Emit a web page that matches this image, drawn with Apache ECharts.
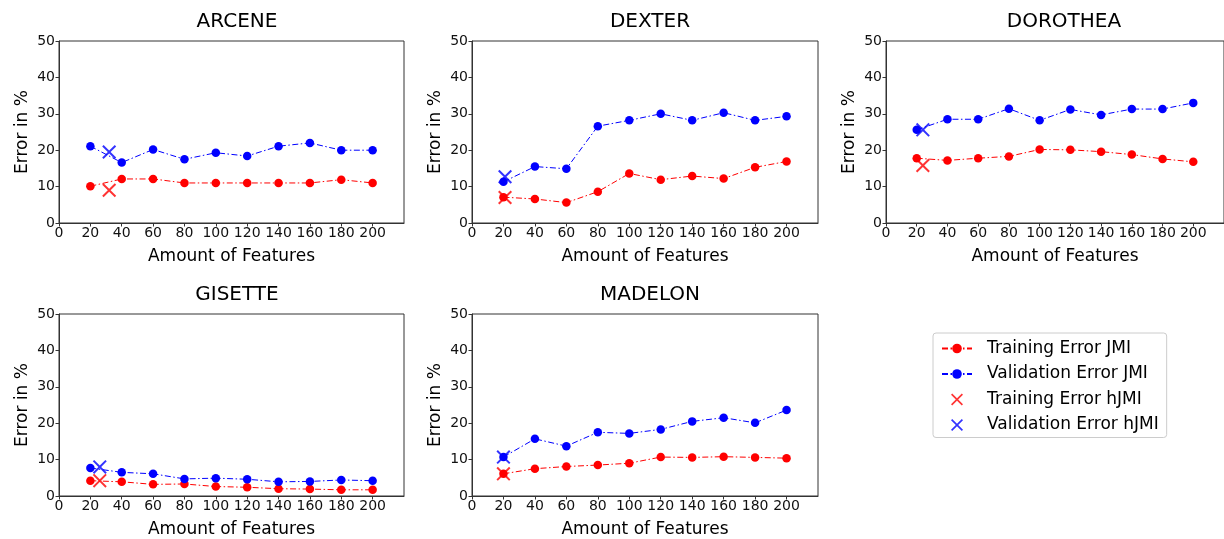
<!DOCTYPE html>
<html>
<head>
<meta charset="utf-8">
<script src="https://cdn.jsdelivr.net/npm/echarts@6/dist/echarts.min.js"></script>
<style>
  html, body { margin: 0; padding: 0; background: #fff; }
  #main { width: 1224px; height: 539px; }
</style>
</head>
<body>
<div id="main"></div>
<script>
// feature counts on the x axis
const features = [20, 40, 60, 80, 100, 120, 140, 160, 180, 200]
const xTicks = [0, 20, 40, 60, 80, 100, 120, 140, 160, 180, 200]

const datasets = ['ARCENE', 'DEXTER', 'DOROTHEA', 'GISETTE', 'MADELON']

// JMI errors, one array per dataset
const trainArcene = [10.1, 12.1, 12.1, 11.0, 11.0, 11.0, 11.0, 11.0, 11.9, 11.0]
const validArcene = [21.1, 16.6, 20.2, 17.5, 19.3, 18.4, 21.1, 22.0, 20.0, 20.0]
const trainDexter = [7.1, 6.6, 5.6, 8.6, 13.6, 11.9, 12.9, 12.2, 15.3, 16.9]
const validDexter = [11.3, 15.5, 14.9, 26.6, 28.2, 30.0, 28.2, 30.3, 28.2, 29.3]
const trainDorothea = [17.8, 17.2, 17.8, 18.3, 20.2, 20.1, 19.6, 18.8, 17.6, 16.8]
const validDorothea = [25.6, 28.5, 28.5, 31.4, 28.2, 31.2, 29.7, 31.3, 31.3, 33.0]
const trainGisette = [4.2, 3.9, 3.2, 3.3, 2.6, 2.4, 2.0, 1.9, 1.7, 1.7]
const validGisette = [7.7, 6.5, 6.1, 4.7, 4.9, 4.6, 3.9, 4.0, 4.4, 4.2]
const trainMadelon = [6.1, 7.5, 8.1, 8.5, 9.0, 10.7, 10.6, 10.8, 10.6, 10.4]
const validMadelon = [10.7, 15.7, 13.7, 17.5, 17.2, 18.3, 20.5, 21.5, 20.1, 23.6]

// hJMI result: [features, error]
const hTrain = [[32, 9.0], [21, 7.0], [24, 15.8], [26, 4.2], [20, 6.1]]
const hValid = [[32, 19.5], [21, 12.7], [24, 25.6], [26, 8.0], [20, 10.7]]

const trainJMI = [trainArcene, trainDexter, trainDorothea, trainGisette, trainMadelon]
const validJMI = [validArcene, validDexter, validDorothea, validGisette, validMadelon]

const yTicks = [0, 10, 20, 30, 40, 50]

const FONT = 'DejaVu Sans'
const RED = '#ff0000'
const BLUE = '#0000ff'
const AXIS = '#333'
const crossPath = 'path://M0,1L1,0L5,4L9,0L10,1L6,5L10,9L9,10L5,6L1,10L0,9L4,5Z'
const dashDot = [6, 2.5, 1.5, 2.5]

// panel boxes in px
const boxes = [
  { left: 59, top: 41, width: 345, height: 182 },
  { left: 472, top: 41, width: 346, height: 182 },
  { left: 886, top: 41, width: 345, height: 182 },
  { left: 59, top: 314, width: 345, height: 184 },
  { left: 472, top: 314, width: 346, height: 184 }
]

const grids = []
const xAxes = []
const yAxes = []
const titles = []
const series = []

boxes.forEach((b, i) => {
  grids.push({
    left: b.left, top: b.top, width: b.width, height: b.height,
    show: true, borderColor: AXIS, borderWidth: 1, backgroundColor: 'transparent'
  })
  titles.push({
    text: datasets[i],
    left: b.left + 173,
    top: b.top - 34,
    textAlign: 'center',
    textStyle: { fontFamily: FONT, fontSize: 20, fontWeight: 'normal', color: '#000' }
  })
  xAxes.push({
    type: 'value', gridIndex: i, min: 0, max: 220, interval: 20,
    name: 'Amount of Features', nameLocation: 'middle', nameGap: 25,
    nameTextStyle: { fontFamily: FONT, fontSize: 17, color: '#000' },
    axisLine: { show: true, onZero: false, lineStyle: { color: AXIS, width: 1 } },
    axisTick: { show: true, length: 3.5, lineStyle: { color: AXIS }, customValues: xTicks },
    axisLabel: { fontFamily: FONT, fontSize: 14, color: '#111', margin: 3, customValues: xTicks },
    splitLine: { show: false }
  })
  yAxes.push({
    type: 'value', gridIndex: i, min: 0, max: 50, interval: 10,
    name: 'Error in %', nameLocation: 'middle', nameGap: 28,
    nameTextStyle: { fontFamily: FONT, fontSize: 17, color: '#000' },
    axisLine: { show: true, lineStyle: { color: AXIS, width: 1 } },
    axisTick: { show: true, length: 3.5, lineStyle: { color: AXIS }, customValues: yTicks },
    axisLabel: { fontFamily: FONT, fontSize: 14, color: '#111', margin: 4, customValues: yTicks },
    splitLine: { show: false }
  })
  series.push({
    name: 'Training Error JMI', type: 'line', xAxisIndex: i, yAxisIndex: i,
    data: features.map((f, k) => [f, trainJMI[i][k]]),
    symbol: 'circle', symbolSize: 8.5, color: RED,
    itemStyle: { color: RED },
    lineStyle: { color: RED, width: 1, type: dashDot },
    animation: false, z: 2
  })
  series.push({
    name: 'Validation Error JMI', type: 'line', xAxisIndex: i, yAxisIndex: i,
    data: features.map((f, k) => [f, validJMI[i][k]]),
    symbol: 'circle', symbolSize: 8.5, color: BLUE,
    itemStyle: { color: BLUE },
    lineStyle: { color: BLUE, width: 1, type: dashDot },
    animation: false, z: 2
  })
  series.push({
    name: 'Training Error hJMI', type: 'scatter', xAxisIndex: i, yAxisIndex: i,
    data: [hTrain[i]], symbol: crossPath, symbolSize: 14, color: RED,
    itemStyle: { color: RED }, animation: false, z: 3
  })
  series.push({
    name: 'Validation Error hJMI', type: 'scatter', xAxisIndex: i, yAxisIndex: i,
    data: [hValid[i]], symbol: crossPath, symbolSize: 14, color: BLUE,
    itemStyle: { color: BLUE }, animation: false, z: 3
  })
})

const chart = echarts.init(document.getElementById('main'), null, { renderer: 'canvas' })
chart.setOption({
  backgroundColor: '#fff',
  animation: false,
  title: titles,
  grid: grids,
  xAxis: xAxes,
  yAxis: yAxes,
  legend: {
    orient: 'vertical',
    left: 933, top: 333,
    padding: [7, 8, 4, 8],
    itemWidth: 30, itemHeight: 12, itemGap: 8.5,
    borderColor: '#ccc', borderWidth: 1, borderRadius: 3,
    textStyle: { fontFamily: FONT, fontSize: 17, color: '#000', padding: [0, 0, 0, 10] },
    data: ['Training Error JMI', 'Validation Error JMI', 'Training Error hJMI', 'Validation Error hJMI']
  },
  series: series
})
</script>
</body>
</html>
